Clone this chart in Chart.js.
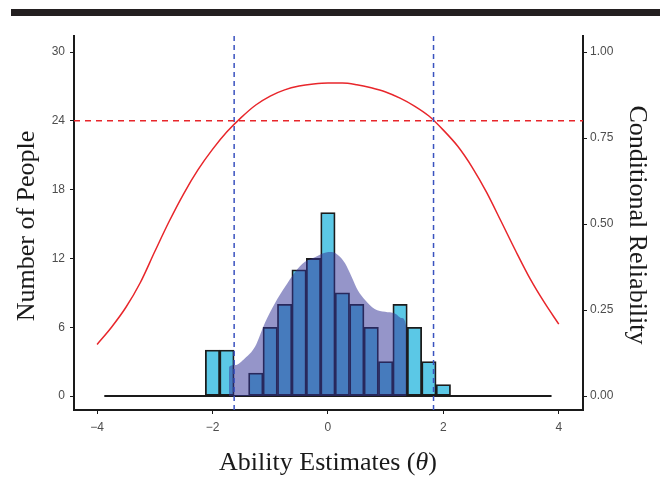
<!DOCTYPE html>
<html>
<head>
<meta charset="utf-8">
<script src="https://cdn.jsdelivr.net/npm/chart.js@4.4.1/dist/chart.umd.min.js"></script>
<style>
  html, body { margin: 0; padding: 0; background: #fff; }
  #wrap { position: relative; width: 671px; height: 485px; }
</style>
</head>
<body>
<div id="wrap"><canvas id="chart" width="671" height="485"></canvas></div>
<script>
// histogram of ability estimates (bin width 0.25)
const binCenters = [-2.0, -1.75, -1.5, -1.25, -1.0, -0.75, -0.5, -0.25, 0.0, 0.25, 0.5, 0.75, 1.0, 1.25, 1.5, 1.75, 2.0];
const binCounts  = [4, 4, 0, 2, 6, 8, 11, 12, 16, 9, 8, 6, 3, 8, 6, 3, 1];
const histRange = [-3.875, 3.875];

// density overlay (scaled to counts)
const densTheta = [-1.714, -1.712, -1.61, -1.437, -1.264, -1.091, -0.918, -0.745, -0.571, -0.398, -0.225, -0.052, 0.064, 0.173, 0.294, 0.41, 0.52, 0.64, 0.81, 0.99, 1.16, 1.28, 1.36, 1.362];
const densCount = [0, 2.55, 2.7, 3.3, 4.3, 6.4, 8.1, 9.5, 10.8, 11.7, 12.1, 12.5, 12.55, 12.3, 11.6, 10.4, 9.2, 8.4, 7.6, 7.35, 7.2, 6.8, 6.0, 0];

// conditional reliability curve (right axis)
const relTheta = [-4, -3.75, -3.5, -3.25, -3, -2.75, -2.5, -2.25, -2, -1.75, -1.5, -1.25, -1, -0.75, -0.5, -0.25, 0, 0.25, 0.5, 0.75, 1, 1.25, 1.5, 1.75, 2, 2.25, 2.5, 2.75, 3, 3.25, 3.5, 3.75, 4];
const relValue = [0.150, 0.200, 0.258, 0.330, 0.420, 0.508, 0.588, 0.658, 0.717, 0.768, 0.810, 0.846, 0.872, 0.890, 0.901, 0.907, 0.910, 0.910, 0.905, 0.896, 0.884, 0.866, 0.843, 0.814, 0.773, 0.726, 0.665, 0.592, 0.508, 0.423, 0.342, 0.272, 0.209];

// reference lines
const relCutoff = 0.8;
const cutThetas = [-1.625, 1.83];

// axes
const xTicks = [-4, -2, 0, 2, 4];
const yTicks = [0, 6, 12, 18, 24, 30];
const y2Ticks = [0, 0.25, 0.5, 0.75, 1.0];
const xRange = [-4.4, 4.42];
const yRange = [-1.22, 31.4];
const countPerRel = 30;

const tickFont = { family: '"Liberation Sans", Arial, sans-serif', size: 12 };
const tickColor = '#4d4d4d';
const axisColor = '#1a1a1a';

const bars = binCenters.map((x, i) => ({ x, y: binCounts[i] }));
const density = densTheta.map((x, i) => ({ x, y: densCount[i] }));
const reliability = relTheta.map((x, i) => ({ x, y: relValue[i] }));

const datasets = [
  {
    type: 'line', data: [{ x: histRange[0], y: 0 }, { x: histRange[1], y: 0 }],
    borderColor: axisColor, borderWidth: 2, pointRadius: 0, order: 9
  },
  {
    type: 'bar', data: bars, backgroundColor: '#5bc8e6', borderColor: '#1c1c1c',
    borderWidth: 1.8, borderSkipped: false, barPercentage: 1, categoryPercentage: 1, order: 8
  },
  {
    type: 'line', data: density, fill: 'origin', backgroundColor: 'rgba(52, 52, 152, 0.52)',
    borderWidth: 0, pointRadius: 0, cubicInterpolationMode: 'monotone', order: 4
  },
  {
    type: 'line', data: reliability, yAxisID: 'y2', borderColor: '#e8262b', borderWidth: 1.5,
    pointRadius: 0, cubicInterpolationMode: 'monotone', fill: false, order: 2
  },
  {
    type: 'line', data: [{ x: xRange[0], y: relCutoff * countPerRel }, { x: xRange[1], y: relCutoff * countPerRel }],
    borderColor: '#e8262b', borderWidth: 1.5, borderDash: [6, 5], pointRadius: 0, fill: false, order: 1
  },
  ...cutThetas.map(t => ({
    type: 'line', data: [{ x: t, y: yRange[0] }, { x: t, y: yRange[1] }],
    borderColor: '#3a52bf', borderWidth: 1.5, borderDash: [5, 4], pointRadius: 0, fill: false, order: 1
  }))
];

// titles, drawn by hand so the theta can be italic
const titlePlugin = {
  id: 'titles',
  afterDraw(chart) {
    const ctx = chart.ctx;
    ctx.save();
    ctx.fillStyle = '#231f20';
    ctx.fillRect(11, 9, 649, 7);

    ctx.fillStyle = axisColor;
    ctx.textBaseline = 'middle';
    ctx.textAlign = 'center';
    const serif = '"Liberation Serif", "Times New Roman", serif';

    ctx.save();
    ctx.translate(27, 226);
    ctx.rotate(-Math.PI / 2);
    ctx.font = '26px ' + serif;
    ctx.fillText('Number of People', 0, 0);
    ctx.restore();

    ctx.save();
    ctx.translate(637, 225);
    ctx.rotate(Math.PI / 2);
    ctx.font = '26px ' + serif;
    ctx.fillText('Conditional Reliability', 0, 0);
    ctx.restore();

    const parts = [
      { t: 'Ability Estimates (', f: '26px ' + serif },
      { t: 'θ', f: 'italic 26px ' + serif },
      { t: ')', f: '26px ' + serif }
    ];
    let total = 0;
    parts.forEach(p => { ctx.font = p.f; p.w = ctx.measureText(p.t).width; total += p.w; });
    let x = 328 - total / 2;
    ctx.textAlign = 'left';
    parts.forEach(p => { ctx.font = p.f; ctx.fillText(p.t, x, 463); x += p.w; });
    ctx.restore();
  }
};

function fixedTicks(values) {
  return scale => { scale.ticks = values.map(v => ({ value: v })); };
}

new Chart(document.getElementById('chart'), {
  type: 'bar',
  data: { datasets },
  options: {
    responsive: false,
    animation: false,
    devicePixelRatio: 1,
    layout: { padding: { top: 36, left: 0, right: 0, bottom: 0 } },
    plugins: { legend: { display: false }, tooltip: { enabled: false } },
    scales: {
      x: {
        type: 'linear', min: xRange[0], max: xRange[1], offset: false,
        afterBuildTicks: fixedTicks(xTicks),
        afterFit: s => { s.height = 75; },
        grid: { drawOnChartArea: false, drawTicks: true, tickLength: 4, color: axisColor, offset: false },
        border: { display: true, color: axisColor, width: 2 },
        ticks: { font: tickFont, color: tickColor, padding: 6, maxRotation: 0,
          callback: v => (v < 0 ? '\u2212' + Math.abs(v) : String(v)) }
      },
      y: {
        type: 'linear', position: 'left', min: yRange[0], max: yRange[1],
        afterBuildTicks: fixedTicks(yTicks),
        afterFit: s => { s.width = 74; },
        grid: { drawOnChartArea: false, drawTicks: true, tickLength: 4, color: axisColor },
        border: { display: true, color: axisColor, width: 2 },
        ticks: { font: tickFont, color: tickColor, padding: 5 }
      },
      y2: {
        type: 'linear', position: 'right', min: yRange[0] / countPerRel, max: yRange[1] / countPerRel,
        afterBuildTicks: fixedTicks(y2Ticks),
        afterFit: s => { s.width = 88; },
        grid: { drawOnChartArea: false, drawTicks: true, tickLength: 4, color: axisColor },
        border: { display: true, color: axisColor, width: 2 },
        ticks: { font: tickFont, color: tickColor, padding: 3, callback: v => v.toFixed(2) }
      }
    }
  },
  plugins: [titlePlugin]
});
</script>
</body>
</html>
